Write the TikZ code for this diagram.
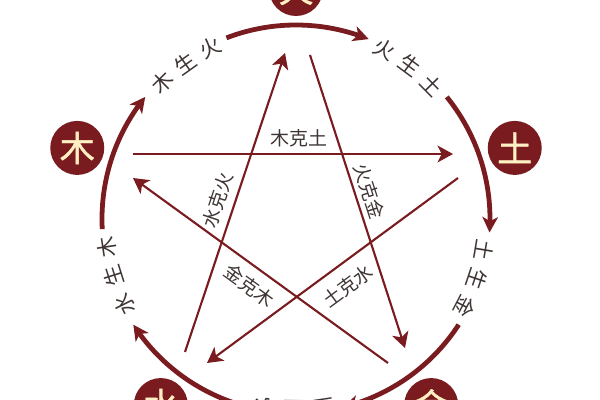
\documentclass[tikz,border=0pt]{standalone}
\usepackage{fontspec}
\usepackage{tikz}
\usetikzlibrary{arrows.meta,bending}
\newfontfamily\cjk{Noto Sans CJK SC}
\newfontfamily\cjkbold[FakeBold=1.2]{Noto Sans CJK SC}
\definecolor{maroon}{RGB}{122,28,31}
\definecolor{cream}{RGB}{255,240,196}
\definecolor{inkgray}{RGB}{62,52,52}

\begin{document}
\begin{tikzpicture}[x=0.025cm,y=0.025cm,
  elem/.style={circle,fill=maroon,text=cream,minimum size=1.35cm,inner sep=0pt,
    font=\cjkbold\fontsize{25}{25}\selectfont},
  sheng/.style={maroon,line width=3.4pt,-{Stealth[length=11pt,width=11pt,inset=3pt]}},
  ke/.style={maroon,line width=1.5pt,-{Stealth[length=11pt,width=12pt,inset=3pt]}},
  shengtxt/.style={text=inkgray,inner sep=0pt,font=\cjk\fontsize{15}{15}\selectfont},
  ketxt/.style={text=inkgray,sloped,font=\cjk\fontsize{13.5}{13.5}\selectfont}]
\useasboundingbox (-296,-181) rectangle (304,219);
\clip (-296,-181) rectangle (304,219);
% five elements
\node[elem] (huo) at (90:230) {火};
\node[elem] (mu) at (162:230) {木};
\node[elem] (tu) at (18:230) {土};
\node[elem] (shui) at (234:230) {水};
\node[elem] (jin) at (306:230) {金};
% generating cycle
\coordinate (smu) at (183:194);
\coordinate (shuo) at (111:194);
\coordinate (stu) at (39:194);
\coordinate (sjin) at (-33:194);
\coordinate (sshui) at (255:194);
\draw[sheng] (smu) arc[start angle=183,end angle=141,radius=194];
\draw[sheng] (shuo) arc[start angle=111,end angle=68,radius=194];
\draw[sheng] (stu) arc[start angle=39,end angle=-4,radius=194];
\draw[sheng] (sjin) arc[start angle=-33,end angle=-76,radius=194];
\draw[sheng] (sshui) arc[start angle=255,end angle=213,radius=194];
\node[shengtxt,rotate=44.5] (mh1) at (134.5:191) {木};
\node[shengtxt,rotate=35.5] (mh2) at (125.5:191) {生};
\node[shengtxt,rotate=26.5] (mh3) at (116.5:191) {火};
\node[shengtxt,rotate=-27.5] (ht1) at (62.5:191) {火};
\node[shengtxt,rotate=-36.5] (ht2) at (53.5:191) {生};
\node[shengtxt,rotate=-45.5] (ht3) at (44.5:191) {土};
\node[shengtxt,rotate=-99.5] (tj1) at (-9.5:191) {土};
\node[shengtxt,rotate=-108.5] (tj2) at (-18.5:191) {生};
\node[shengtxt,rotate=-117.5] (tj3) at (-27.5:191) {金};
\node[shengtxt,rotate=-171.5] (js1) at (-81.5:191) {金};
\node[shengtxt,rotate=-180.5] (js2) at (-90.5:191) {生};
\node[shengtxt,rotate=-189.5] (js3) at (-99.5:191) {水};
\node[shengtxt,rotate=116.5] (sm1) at (206.5:191) {水};
\node[shengtxt,rotate=107.5] (sm2) at (197.5:191) {生};
\node[shengtxt,rotate=98.5] (sm3) at (188.5:191) {木};
% overcoming star
\coordinate (muA) at (-163,65);
\coordinate (muB) at (-163,41);
\coordinate (tuA) at (157,65);
\coordinate (tuB) at (162,41);
\coordinate (huoA) at (-11,166);
\coordinate (huoB) at (14,164);
\coordinate (shuiA) at (-111,-133);
\coordinate (shuiB) at (-89,-144);
\coordinate (jinA) at (109,-129);
\coordinate (jinB) at (92,-144);
\draw[ke] (muA) -- (tuA) node[ketxt,pos=.52,above=1pt] {木克土};
\draw[ke] (shuiA) -- (huoA) node[ketxt,pos=.49,above=2pt] {水克火};
\draw[ke] (huoB) -- (jinA) node[ketxt,pos=.48,above=0pt] {火克金};
\draw[ke] (tuB) -- (shuiB) node[ketxt,pos=.49,below=5pt] {土克水};
\draw[ke] (jinB) -- (muB) node[ketxt,pos=.5,below=3pt] {金克木};
\end{tikzpicture}
\end{document}
